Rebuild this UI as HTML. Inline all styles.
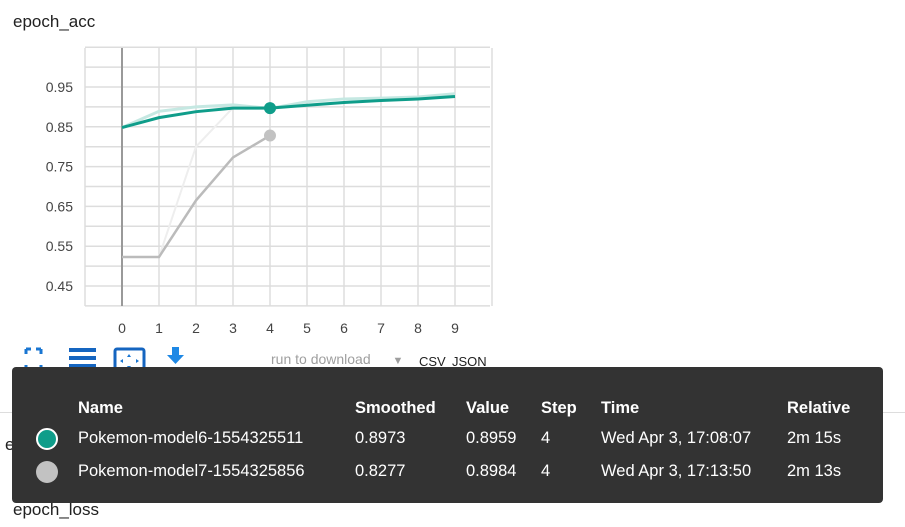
<!DOCTYPE html>
<html><head><meta charset="utf-8"><style>
body{margin:0;width:905px;height:527px;background:#fff;font-family:"Liberation Sans",sans-serif;position:relative;overflow:hidden}
.t{position:absolute;color:#212121}
td{padding:0;white-space:nowrap}
</style></head><body>
<div class="t" style="left:13px;top:12px;font-size:17px">epoch_acc</div>
<svg id="chart" width="905" height="527" style="position:absolute;left:0;top:0"></svg>
<div class="t" style="left:271px;top:351px;font-size:14px;color:#9e9e9e;width:145px;border-bottom:1px solid #333;padding-bottom:6px">run to download <span style="margin-left:18px;font-size:11px">▼</span></div>
<div class="t" style="left:419px;top:354px;font-size:13px">CSV</div>
<div class="t" style="left:452px;top:354px;font-size:13px">JSON</div>
<div style="position:absolute;left:0;top:412px;width:905px;height:1px;background:#ddd"></div>
<div class="t" style="left:5px;top:435px;font-size:17px">epoch_loss</div>
<div class="t" style="left:13px;top:500px;font-size:17px">epoch_loss</div>
<div style="position:absolute;left:12px;top:367px;width:871px;height:136px;background:#333;border-radius:4px;color:#fff;font-size:17px">
<table style="position:absolute;left:18px;top:28px;border-collapse:collapse;color:#fff;font-size:16.5px;font-family:'Liberation Sans',sans-serif;table-layout:fixed">
<tr style="font-weight:bold;height:27px"><td style="width:48px"></td><td style="width:277px">Name</td><td style="width:111px">Smoothed</td><td style="width:75px">Value</td><td style="width:60px">Step</td><td style="width:186px">Time</td><td>Relative</td></tr>
<tr style="height:33px"><td><div style="width:18px;height:18px;border-radius:50%;background:#0f9d8a;border:2px solid #fff;margin-left:6px"></div></td><td>Pokemon-model6-1554325511</td><td>0.8973</td><td>0.8959</td><td>4</td><td>Wed Apr 3, 17:08:07</td><td>2m 15s</td></tr>
<tr style="height:33px"><td><div style="width:22px;height:22px;border-radius:50%;background:#c2c2c2;margin-left:6px"></div></td><td>Pokemon-model7-1554325856</td><td>0.8277</td><td>0.8984</td><td>4</td><td>Wed Apr 3, 17:13:50</td><td>2m 13s</td></tr>
</table></div>
<script>
const steps=[0,1,2,3,4,5,6,7,8,9];
const greenSmooth=[0.848,0.873,0.888,0.897,0.897,0.904,0.911,0.916,0.920,0.926];
const greenRaw=[0.848,0.889,0.900,0.905,0.896,0.913,0.920,0.922,0.925,0.933];
const graySmooth=[0.523,0.523,0.665,0.773,0.828];
const grayRaw=[0.523,0.523,0.800,0.898,0.898];
const yTicks=[0.45,0.55,0.65,0.75,0.85,0.95];
const svg=document.getElementById('chart');const NS='http://www.w3.org/2000/svg';
const X=s=>122+s*37, Y=v=>286-(v-0.45)*398;
function el(t,a){const e=document.createElementNS(NS,t);for(const k in a)e.setAttribute(k,a[k]);svg.appendChild(e);return e;}
for(let v=0.40;v<=1.051;v+=0.05){const g=el('line',{x1:85,x2:490,y1:Y(v),y2:Y(v),stroke:'#ddd','stroke-width':1.5});

}
for(let s=-1;s<=10;s++){const g=el('line',{x1:X(s),x2:X(s),y1:48,y2:306,stroke:'#ddd','stroke-width':1.5});

}
const ax=el('line',{x1:122,x2:122,y1:48,y2:306,stroke:'#999','stroke-width':2});


yTicks.forEach(v=>{const t=el('text',{x:73,y:Y(v)+5,'text-anchor':'end','font-size':14,fill:'#444','font-family':'Liberation Sans'});t.textContent=v.toFixed(2);

});
steps.forEach(s=>{const t=el('text',{x:X(s),y:333,'text-anchor':'middle','font-size':14,fill:'#444','font-family':'Liberation Sans'});t.textContent=s;

});
function line(arr,c,w,name){const p=el('polyline',{points:arr.map((v,i)=>X(steps[i])+','+Y(v)).join(' '),fill:'none',stroke:c,'stroke-width':w});

}
line(grayRaw,'#eee',2,'gray-raw-line');
line(greenRaw,'#c5e8e2',3,'green-raw-line');
line(graySmooth,'#bbb',2.5,'gray-smoothed-line');
line(greenSmooth,'#0f9d8a',3,'green-smoothed-line');
const d1=el('circle',{cx:X(4),cy:Y(greenSmooth[4]),r:6,fill:'#0f9d8a'});


const d2=el('circle',{cx:X(4),cy:Y(graySmooth[4]),r:6,fill:'#c2c2c2'});


const ic=[['expand-icon',`<path d="M26 349h5M26 349v5M41 349h-5M41 349v5M26 370h5M26 370v-5M41 370h-5M41 370v-5" stroke="#1976d2" stroke-width="3" fill="none"/>`],
['lines-icon',`<path d="M69 350h27M69 358h27M69 366h27" stroke="#1565c0" stroke-width="4"/>`],
['fit-icon',`<rect x="115" y="349" width="29" height="24" rx="2" fill="none" stroke="#1565c0" stroke-width="3"/><path d="M129 354l-2 3h4zM129 369l-2-3h4zM120 361l3-2v4zM139 361l-3-2v4z" fill="#1976d2"/>`],
['download-icon',`<path d="M172 347h7v8h5l-8.5 9-8.5-9h5z" fill="#1e88e5"/><path d="M166 370h20" stroke="#1565c0" stroke-width="3"/>`]];
ic.forEach(([n,h])=>{const g=el('g',{});g.innerHTML=h;

});
</script>
</body></html>
